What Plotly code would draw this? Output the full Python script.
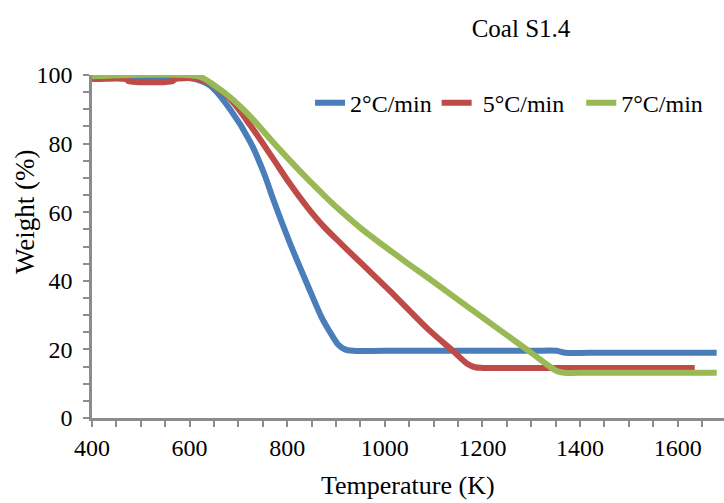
import plotly.graph_objects as go

# Data
t_2 = [400, 500, 600, 642, 683, 725, 752, 772, 807, 841, 870, 890, 905, 918, 935, 1000, 1300, 1352, 1370, 1420, 1680]
w_2 = [99.3, 99.3, 99.2, 96.9, 90.0, 80.3, 71.5, 63.5, 50.5, 39.0, 29.5, 24.5, 21.3, 20.0, 19.6, 19.6, 19.6, 19.6, 19.0, 19.0, 19.0]

t_5 = [400, 470, 475, 565, 570, 610, 640, 683, 725, 772, 806, 841, 875, 909, 951, 1018, 1088, 1140, 1168, 1185, 1200, 1260, 1635]
w_5 = [98.8, 98.8, 98.2, 98.2, 98.8, 99.0, 97.8, 93.0, 85.2, 75.4, 68.2, 61.5, 55.8, 51.0, 45.2, 36.0, 26.0, 19.5, 15.9, 14.8, 14.6, 14.6, 14.6]

t_7 = [400, 620, 650, 683, 725, 766, 800, 834, 875, 903, 951, 1039, 1094, 1170, 1238, 1306, 1335, 1352, 1368, 1420, 1680]
w_7 = [99.6, 99.5, 97.0, 93.5, 87.8, 81.2, 75.9, 70.8, 65.0, 61.2, 55.3, 45.9, 40.3, 32.4, 25.4, 18.4, 15.3, 13.7, 13.2, 13.2, 13.2]

series_names = ["2°C/min", "\u00a05°C/min\u00a0\u00a0", "7°C/min"]
colors = ["#4A7EBB", "#BE4B48", "#98B954"]

x_ticks = [400, 600, 800, 1000, 1200, 1400, 1600]
y_ticks = [0, 20, 40, 60, 80, 100]

FONT = "Liberation Serif, Times New Roman, serif"
AXIS_COLOR = "#8c8c8c"

fig = go.Figure()
for t, w, name, c in zip([t_2, t_5, t_7], [w_2, w_5, w_7], series_names, colors):
    fig.add_trace(go.Scatter(x=t, y=w, mode="lines", name=name,
                             line=dict(color=c, width=6, shape="spline", smoothing=0.8)))

fig.update_layout(
    width=724, height=503,
    margin=dict(l=92, r=0, t=75, b=85),
    paper_bgcolor="white", plot_bgcolor="white",
    font=dict(family=FONT, color="black"),
    showlegend=True,
    legend=dict(orientation="h", x=0.345, xanchor="left", y=0.918, yanchor="middle",
                font=dict(size=24, family=FONT), bgcolor="rgba(0,0,0,0)",
                itemwidth=30, tracegroupgap=0),
    title=dict(text="Coal S1.4", x=521 / 724, xanchor="center", y=1 - 28 / 503, yanchor="middle",
               font=dict(size=25, family=FONT)),
)

fig.update_xaxes(range=[400, 1695], tickvals=x_ticks, showgrid=False, zeroline=False,
                 showline=True, linecolor=AXIS_COLOR, linewidth=2.5,
                 ticks="outside", ticklen=6, tickwidth=1.5, tickcolor=AXIS_COLOR,
                 tickfont=dict(size=24, family=FONT),
                 minor=dict(dtick=50, ticks="outside", ticklen=6, tickwidth=1.5,
                            tickcolor=AXIS_COLOR, showgrid=False))
fig.update_yaxes(range=[0, 100], tickvals=y_ticks, showgrid=False, zeroline=False,
                 showline=True, linecolor=AXIS_COLOR, linewidth=2.5,
                 ticks="outside", ticklen=6, tickwidth=1.5, tickcolor=AXIS_COLOR,
                 tickfont=dict(size=24, family=FONT), ticklabelstandoff=6,
                 minor=dict(dtick=5, ticks="outside", ticklen=6, tickwidth=1.5,
                            tickcolor=AXIS_COLOR, showgrid=False))

fig.add_annotation(text="Temperature (K)", xref="paper", yref="paper",
                   x=(408 - 92) / 632, y=-(485 - 418) / 343, xanchor="center", yanchor="middle",
                   showarrow=False, font=dict(size=26, family=FONT))
fig.add_annotation(text="Weight (%)", xref="paper", yref="paper",
                   x=-(92 - 25) / 632, y=(418 - 212) / 343, xanchor="center", yanchor="middle",
                   textangle=-90, showarrow=False, font=dict(size=27, family=FONT))

fig.write_html("out.html")
